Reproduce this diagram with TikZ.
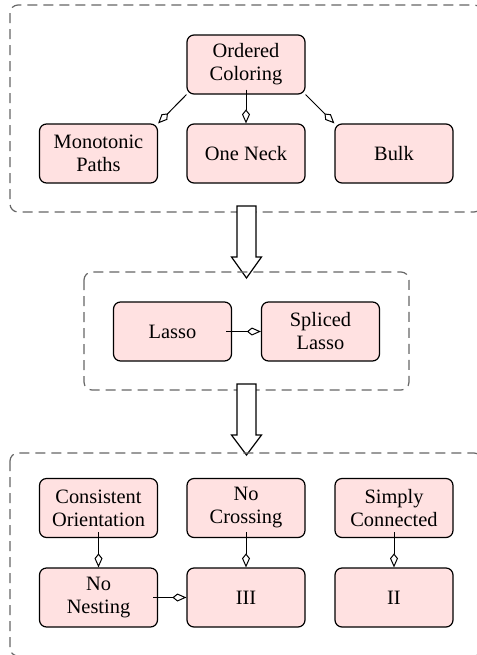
\documentclass[tikz,border=0pt]{standalone}
\usepackage{fontspec}
\setmainfont{Liberation Serif}
\usetikzlibrary{arrows.meta}
\definecolor{boxpink}{RGB}{255,225,225}
\begin{document}
\begin{tikzpicture}[x=0.5pt,y=-0.5pt,
  box/.style={draw, rounded corners=3.5pt, fill=boxpink, minimum width=59pt, minimum height=29.5pt,
    align=center, inner sep=0pt, font=\fontsize{10.2}{11.5}\selectfont, line width=0.6pt},
  group/.style={draw=black!60, dash pattern=on 5pt off 3pt, rounded corners=4pt, line width=0.6pt},
  link/.style={-{Kite[fill=white,length=7pt,width=4pt,inset=2.5pt]}, line width=0.5pt},
  bigarrow/.style={draw, fill=white, line width=0.6pt}]
\clip (0,0) rectangle (477,655);
% top group
\draw[group] (10,5) rectangle (482,212);
\node[box] (oc) at (246,64.5) {Ordered\\Coloring};
\node[box] (mp) at (98.5,153.5) {Monotonic\\Paths};
\node[box] (on) at (246,153.5) {One Neck};
\node[box] (bulk) at (394,153.5) {Bulk};
\draw[link] (oc.south west) -- (mp.north east);
\draw[link, shorten <=-2.5pt] (oc.south) -- (on.north);
\draw[link] (oc.south east) -- (bulk.north west);
% big arrow 1
\draw[bigarrow] (237,206) -- (237,257) -- (231.5,257) -- (246.5,278) -- (261.5,257) -- (256,257) -- (256,206) -- cycle;
% middle group
\draw[group] (84,272) rectangle (409,390);
\node[box] (lasso) at (172.5,331.5) {Lasso};
\node[box] (sl) at (320.5,331.5) {Spliced\\Lasso};
\draw[link, shorten <=-3pt] (lasso.east) -- (sl.west);
% big arrow 2
\draw[bigarrow] (237,384) -- (237,435) -- (231.5,435) -- (246.5,455) -- (261.5,435) -- (256,435) -- (256,384) -- cycle;
% bottom group
\draw[group] (10,453) rectangle (482,656);
\node[box] (co) at (98.5,508) {Consistent\\Orientation};
\node[box] (nc) at (246,508) {No\\Crossing};
\node[box] (sc) at (394,508) {Simply\\Connected};
\node[box] (nn) at (98.5,597.5) {No\\Nesting};
\node[box] (iii) at (246,597.5) {III};
\node[box] (ii) at (394,597.5) {II};
\draw[link, shorten <=-3pt] (co.south) -- (nn.north);
\draw[link, shorten <=-3pt] (nc.south) -- (iii.north);
\draw[link, shorten <=-3pt] (sc.south) -- (ii.north);
\draw[link, shorten <=-2.5pt] (nn.east) -- (iii.west);
\end{tikzpicture}
\end{document}
